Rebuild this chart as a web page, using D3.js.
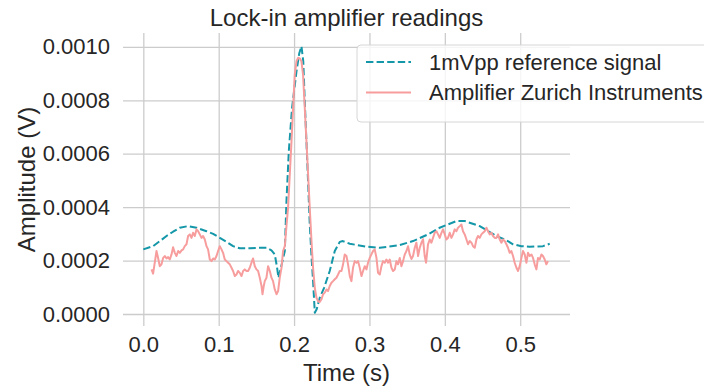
<!DOCTYPE html>
<html>
<head>
<meta charset="utf-8">
<script src="https://cdn.jsdelivr.net/npm/d3@7/dist/d3.min.js"></script>
<style>
  html, body { margin: 0; padding: 0; background: #ffffff; }
  svg { display: block; font-family: "Liberation Sans", Arial, sans-serif; }
</style>
</head>
<body>
<svg id="chart" width="704" height="389"></svg>
<script>
// 1 mVpp reference signal: time (s) and amplitude (V)
const refTime = [0.0000, 0.0130, 0.0219, 0.0308, 0.0395, 0.0484, 0.0594, 0.0706, 0.0838, 0.0926,
  0.1015, 0.1103, 0.1191, 0.1280, 0.1412, 0.1545, 0.1634, 0.1700, 0.1744, 0.1775,
  0.1793, 0.1820, 0.1846, 0.1877, 0.1899, 0.1930, 0.1973, 0.2032, 0.2069, 0.2098,
  0.2122, 0.2142, 0.2164, 0.2188, 0.2208, 0.2231, 0.2252, 0.2275, 0.2301, 0.2341,
  0.2398, 0.2473, 0.2540, 0.2606, 0.2646, 0.2739, 0.2960, 0.3137, 0.3402, 0.3578,
  0.3777, 0.3932, 0.4021, 0.4154, 0.4264, 0.4463, 0.4684, 0.4817, 0.4905, 0.5016,
  0.5126, 0.5302, 0.5391];
const refAmp = [0.000242, 0.000254, 0.000273, 0.000292, 0.000308, 0.000323, 0.000329, 0.000323, 0.000310, 0.000300,
  0.000285, 0.000270, 0.000254, 0.000246, 0.000246, 0.000248, 0.000248, 0.000238, 0.000223, 0.000173,
  0.000136, 0.000167, 0.000198, 0.000236, 0.000422, 0.000609, 0.000771, 0.000908, 0.000976, 0.001002,
  0.000946, 0.000796, 0.000647, 0.000479, 0.000336, 0.000217, 0.000123, 0.000005, 0.000019, 0.000061,
  0.000098, 0.000161, 0.000236, 0.000270, 0.000273, 0.000263, 0.000252, 0.000248, 0.000258, 0.000273,
  0.000298, 0.000323, 0.000333, 0.000348, 0.000348, 0.000329, 0.000292, 0.000276, 0.000261, 0.000254,
  0.000252, 0.000254, 0.000263];

// Zurich Instruments lock-in amplifier output: time (s) and amplitude (V)
const zurichTime = [0.0109, 0.0130, 0.0175, 0.0196, 0.0219, 0.0241, 0.0263, 0.0285, 0.0308, 0.0329,
  0.0351, 0.0374, 0.0395, 0.0418, 0.0440, 0.0462, 0.0484, 0.0507, 0.0528, 0.0550,
  0.0573, 0.0594, 0.0617, 0.0639, 0.0660, 0.0683, 0.0706, 0.0727, 0.0749, 0.0772,
  0.0793, 0.0816, 0.0838, 0.0859, 0.0882, 0.0905, 0.0926, 0.0948, 0.0971, 0.0992,
  0.1015, 0.1037, 0.1058, 0.1081, 0.1103, 0.1125, 0.1147, 0.1170, 0.1191, 0.1214,
  0.1236, 0.1257, 0.1280, 0.1302, 0.1324, 0.1346, 0.1369, 0.1390, 0.1412, 0.1435,
  0.1456, 0.1479, 0.1501, 0.1523, 0.1545, 0.1568, 0.1581, 0.1598, 0.1611, 0.1634,
  0.1655, 0.1678, 0.1700, 0.1721, 0.1744, 0.1767, 0.1788, 0.1810, 0.1833, 0.1854,
  0.1877, 0.1899, 0.1920, 0.1943, 0.1966, 0.1987, 0.2009, 0.2032, 0.2053, 0.2076,
  0.2098, 0.2119, 0.2142, 0.2164, 0.2186, 0.2208, 0.2231, 0.2252, 0.2275, 0.2297,
  0.2321, 0.2341, 0.2363, 0.2385, 0.2407, 0.2430, 0.2451, 0.2473, 0.2496, 0.2517,
  0.2540, 0.2562, 0.2584, 0.2606, 0.2629, 0.2650, 0.2672, 0.2695, 0.2716, 0.2739,
  0.2761, 0.2782, 0.2805, 0.2828, 0.2849, 0.2871, 0.2894, 0.2915, 0.2938, 0.2960,
  0.2981, 0.3004, 0.3026, 0.3048, 0.3070, 0.3093, 0.3114, 0.3137, 0.3159, 0.3180,
  0.3203, 0.3225, 0.3247, 0.3269, 0.3292, 0.3313, 0.3336, 0.3358, 0.3379, 0.3402,
  0.3424, 0.3446, 0.3468, 0.3491, 0.3512, 0.3534, 0.3557, 0.3578, 0.3601, 0.3623,
  0.3645, 0.3667, 0.3690, 0.3711, 0.3733, 0.3751, 0.3777, 0.3800, 0.3822, 0.3843,
  0.3866, 0.3889, 0.3910, 0.3932, 0.3955, 0.3976, 0.3999, 0.4021, 0.4042, 0.4065,
  0.4088, 0.4109, 0.4131, 0.4154, 0.4175, 0.4198, 0.4220, 0.4241, 0.4264, 0.4287,
  0.4308, 0.4330, 0.4353, 0.4374, 0.4397, 0.4419, 0.4440, 0.4463, 0.4485, 0.4507,
  0.4529, 0.4552, 0.4573, 0.4595, 0.4618, 0.4639, 0.4662, 0.4684, 0.4706, 0.4728,
  0.4751, 0.4772, 0.4794, 0.4817, 0.4838, 0.4861, 0.4883, 0.4905, 0.4927, 0.4950,
  0.4971, 0.4993, 0.5016, 0.5037, 0.5060, 0.5082, 0.5103, 0.5126, 0.5149, 0.5170,
  0.5192, 0.5215, 0.5236, 0.5259, 0.5281, 0.5302, 0.5325, 0.5347, 0.5369];
const zurichAmp = [0.000167, 0.000151, 0.000236, 0.000210, 0.000179, 0.000186, 0.000210, 0.000217, 0.000208, 0.000213,
  0.000204, 0.000223, 0.000250, 0.000229, 0.000217, 0.000236, 0.000229, 0.000238, 0.000242, 0.000254,
  0.000261, 0.000292, 0.000298, 0.000285, 0.000304, 0.000292, 0.000317, 0.000310, 0.000298, 0.000285,
  0.000292, 0.000279, 0.000254, 0.000242, 0.000204, 0.000198, 0.000208, 0.000204, 0.000217, 0.000236,
  0.000254, 0.000242, 0.000229, 0.000204, 0.000198, 0.000192, 0.000186, 0.000173, 0.000161, 0.000142,
  0.000148, 0.000161, 0.000154, 0.000142, 0.000161, 0.000167, 0.000161, 0.000161, 0.000173, 0.000192,
  0.000208, 0.000179, 0.000167, 0.000161, 0.000136, 0.000105, 0.000074, 0.000105, 0.000123, 0.000136,
  0.000179, 0.000161, 0.000136, 0.000123, 0.000092, 0.000074, 0.000086, 0.000136, 0.000173, 0.000236,
  0.000254, 0.000329, 0.000397, 0.000522, 0.000647, 0.000771, 0.000896, 0.000946, 0.000959, 0.000957,
  0.000946, 0.000896, 0.000771, 0.000647, 0.000522, 0.000397, 0.000273, 0.000173, 0.000098, 0.000061,
  0.000047, 0.000045, 0.000055, 0.000074, 0.000080, 0.000092, 0.000086, 0.000105, 0.000117, 0.000123,
  0.000130, 0.000136, 0.000148, 0.000161, 0.000161, 0.000186, 0.000223, 0.000217, 0.000186, 0.000142,
  0.000123, 0.000173, 0.000198, 0.000192, 0.000198, 0.000173, 0.000142, 0.000161, 0.000179, 0.000167,
  0.000192, 0.000210, 0.000223, 0.000236, 0.000242, 0.000210, 0.000154, 0.000148, 0.000179, 0.000198,
  0.000192, 0.000204, 0.000192, 0.000204, 0.000173, 0.000161, 0.000167, 0.000198, 0.000186, 0.000210,
  0.000179, 0.000198, 0.000223, 0.000236, 0.000254, 0.000223, 0.000206, 0.000217, 0.000248, 0.000267,
  0.000217, 0.000248, 0.000267, 0.000280, 0.000217, 0.000192, 0.000261, 0.000279, 0.000267, 0.000285,
  0.000304, 0.000310, 0.000298, 0.000285, 0.000304, 0.000317, 0.000298, 0.000279, 0.000285, 0.000304,
  0.000285, 0.000298, 0.000317, 0.000310, 0.000323, 0.000329, 0.000335, 0.000310, 0.000298, 0.000279,
  0.000261, 0.000273, 0.000267, 0.000254, 0.000248, 0.000279, 0.000292, 0.000285, 0.000298, 0.000304,
  0.000310, 0.000323, 0.000310, 0.000298, 0.000304, 0.000292, 0.000285, 0.000285, 0.000298, 0.000279,
  0.000267, 0.000279, 0.000273, 0.000261, 0.000248, 0.000229, 0.000236, 0.000217, 0.000192, 0.000173,
  0.000161, 0.000179, 0.000210, 0.000236, 0.000223, 0.000192, 0.000229, 0.000217, 0.000223, 0.000210,
  0.000186, 0.000167, 0.000210, 0.000204, 0.000223, 0.000217, 0.000204, 0.000186, 0.000198];

const xTicks = [0.0, 0.1, 0.2, 0.3, 0.4, 0.5];
const yTicks = [0.0000, 0.0002, 0.0004, 0.0006, 0.0008, 0.0010];
const seriesNames = ["1mVpp reference signal", "Amplifier Zurich Instruments"];

const textColor = "#262626";
const gridColor = "#cccccc";
const refColor = "#1497a8";
const zurichColor = "#f79d9d";

const svg = d3.select("#chart");
const plot = { left: 123, right: 570, top: 33, bottom: 326 };

// Axis limits padded by 5% of the data span on each side
function padded(values) {
  const [lo, hi] = d3.extent(values);
  const m = (hi - lo) * 0.05;
  return [lo - m, hi + m];
}
const allT = refTime.concat(zurichTime);
const allV = refAmp.concat(zurichAmp);

const x = d3.scaleLinear().domain(padded(allT)).range([plot.left, plot.right]);
const y = d3.scaleLinear().domain(padded(allV)).range([plot.bottom, plot.top]);

// Grid lines drawn through the axis generators
const xAxis = d3.axisBottom(x).tickValues(xTicks)
  .tickSize(-(plot.bottom - plot.top)).tickPadding(10).tickFormat(d3.format(".1f"));
const yAxis = d3.axisLeft(y).tickValues(yTicks)
  .tickSize(-(plot.right - plot.left)).tickPadding(13).tickFormat(d3.format(".4f"));

const gx = svg.append("g").attr("transform", `translate(0,${plot.bottom})`).call(xAxis);
const gy = svg.append("g").attr("transform", `translate(${plot.left},0)`).call(yAxis);
[gx, gy].forEach(g => {
  g.select(".domain").remove();
  g.selectAll(".tick line").attr("stroke", gridColor).attr("stroke-width", 1.3);
  g.selectAll(".tick text").attr("fill", textColor).attr("font-size", 22)
    .attr("font-family", "Liberation Sans, Arial, sans-serif");
});

// Series lines
const line = d3.line().x(d => x(d[0])).y(d => y(d[1]));
const refData = refTime.map((t, i) => [t, refAmp[i]]);
const zurichData = zurichTime.map((t, i) => [t, zurichAmp[i]]);

svg.append("path").datum(refData).attr("d", line)
  .attr("fill", "none").attr("stroke", refColor).attr("stroke-width", 2)
  .attr("stroke-dasharray", "7.4,3.2").attr("stroke-linejoin", "round");
svg.append("path").datum(zurichData).attr("d", line)
  .attr("fill", "none").attr("stroke", zurichColor).attr("stroke-width", 2)
  .attr("stroke-linejoin", "round");

// Title and axis labels
const cx = (plot.left + plot.right) / 2;
svg.append("text").attr("x", cx).attr("y", 26).attr("text-anchor", "middle")
  .attr("fill", textColor).attr("font-size", 24).text("Lock-in amplifier readings");
svg.append("text").attr("x", cx).attr("y", 381).attr("text-anchor", "middle")
  .attr("fill", textColor).attr("font-size", 24).text("Time (s)");
svg.append("text")
  .attr("transform", `translate(35,${(plot.top + plot.bottom) / 2}) rotate(-90)`)
  .attr("text-anchor", "middle").attr("fill", textColor).attr("font-size", 24)
  .text("Amplitude (V)");

// Legend
const legend = svg.append("g").attr("transform", "translate(357,45)");
legend.append("rect").attr("x", 0).attr("y", 0).attr("width", 360).attr("height", 77)
  .attr("rx", 4).attr("fill", "#ffffff").attr("fill-opacity", 0.8)
  .attr("stroke", "#d6d6d6").attr("stroke-width", 1);
const legendStyles = [
  { color: refColor, dash: "7.4,3.2" },
  { color: zurichColor, dash: null }
];
seriesNames.forEach((name, i) => {
  const yy = 17 + i * 30.5;
  legend.append("line").attr("x1", 9).attr("x2", 54).attr("y1", yy).attr("y2", yy)
    .attr("stroke", legendStyles[i].color).attr("stroke-width", 2)
    .attr("stroke-dasharray", legendStyles[i].dash);
  legend.append("text").attr("x", 72).attr("y", yy).attr("dy", "0.35em")
    .attr("fill", textColor).attr("font-size", 22).text(name);
});
</script>
</body>
</html>
